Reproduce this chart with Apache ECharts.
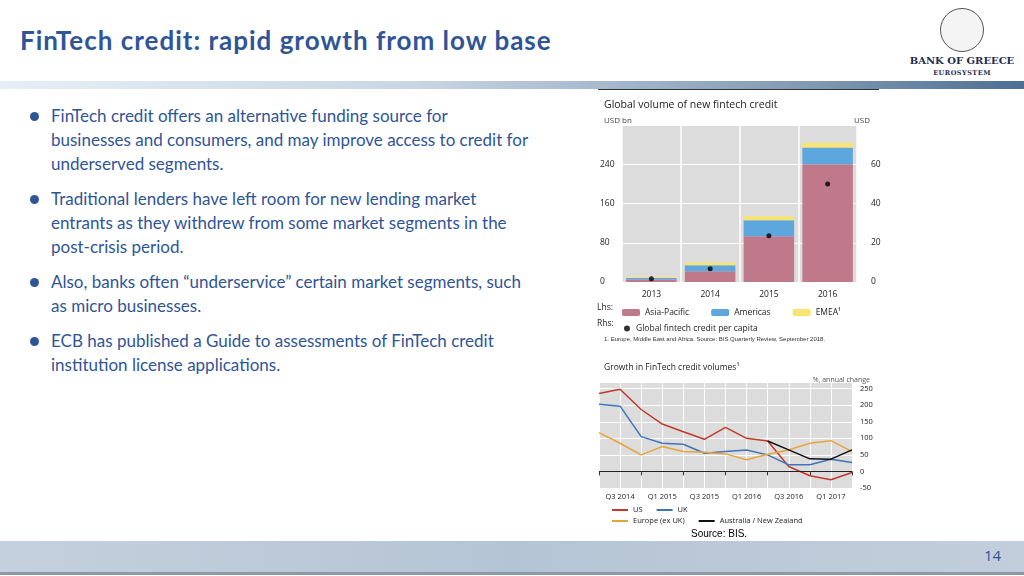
<!DOCTYPE html>
<html><head><meta charset="utf-8">
<script src="https://cdn.jsdelivr.net/npm/echarts@6/dist/echarts.min.js"></script>
<style>
body{margin:0;width:1024px;height:576px;position:relative;background:#fff;font-family:"Open Sans",sans-serif;overflow:hidden}
#title{position:absolute;left:20px;top:24px;font-family:Lato,"Open Sans",sans-serif;font-weight:bold;font-size:26px;color:#2f5597;letter-spacing:1px}
#rule{position:absolute;left:0;top:81px;width:1024px;height:8px;background:linear-gradient(90deg,#e8eef5,#c9d6e4 40%,#7f98b3 80%,#4d6f94)}
#logo{position:absolute;left:900px;top:8px;width:124px;text-align:center;font-family:"DejaVu Serif",serif;color:#1f2a4d}
#seal{width:42px;height:42px;border:1px solid #555;border-radius:50%;margin:0 auto;background:#f4f4f4}
ul{position:absolute;left:28px;top:104px;width:500px;margin:0;padding:0;list-style:none;font-size:17px;line-height:24px;color:#2f5597;font-family:Lato,sans-serif}
li{position:relative;padding-left:23px;margin-bottom:11px}
li:before{content:"";position:absolute;left:2px;top:8px;width:9px;height:9px;border-radius:50%;background:#2f5597}
#c1{position:absolute;left:585px;top:88px;width:300px;height:250px}
#c2{position:absolute;left:585px;top:355px;width:300px;height:170px}
.sm{position:absolute;font-family:Roboto,sans-serif;color:#333}
#footer{position:absolute;left:0;top:541px;width:1024px;height:31px;background:linear-gradient(90deg,#c4d0dd,#b5c4d4 50%,#c2cedb);border-bottom:3px solid #8c9aa8}
</style></head><body>
<div id="title">FinTech credit: rapid growth from low base</div>
<div id="logo"><div id="seal"></div><div style="font-size:10px;font-weight:bold;margin-top:3px">BANK OF GREECE</div><div style="font-size:6.5px;font-weight:bold;margin-top:3px;letter-spacing:0.5px">EUROSYSTEM</div></div>
<div id="rule"></div>
<ul>
<li>FinTech credit offers an alternative funding source for businesses and consumers, and may improve access to credit for underserved segments.</li>
<li>Traditional lenders have left room for new lending market entrants as they withdrew from some market segments in the post-crisis period.</li>
<li>Also, banks often “underservice” certain market segments, such as micro businesses.</li>
<li>ECB has published a Guide to assessments of FinTech credit institution license applications.</li>
</ul>
<div style="position:absolute;left:598px;top:89px;width:281px;border-top:1px solid #333"></div>
<div id="c1"></div>
<div class="sm" style="left:604px;top:336px;font-size:6px;font-family:'Liberation Sans'">1.  Europe, Middle East and Africa. Source: BIS Quarterly Review, September 2018.</div>
<div id="c2"></div>
<div class="sm" style="left:691px;top:528px;font-size:10px;font-family:'Liberation Sans';color:#000">Source: BIS.</div>
<div id="footer"><div style="position:absolute;left:984px;top:4px;font-size:15px;color:#2f5597">14</div></div>
<script>
var years=['2013','2014','2015','2016'];
var asiaPacific=[5,22,93,240];
var americas=[3,12,33,34];
var emea=[2,6,8,10];
var perCapita=[1.7,6.8,23.6,50];

var quarters=['Q2 2014','Q3 2014','Q4 2014','Q1 2015','Q2 2015','Q3 2015','Q4 2015','Q1 2016','Q2 2016','Q3 2016','Q4 2016','Q1 2017','Q2 2017'];
var us=[235,248,187,143,120,97,133,100,92,15,-13,-25,-3];
var uk=[203,197,105,85,82,55,60,65,50,20,20,37,27];
var europe=[117,85,50,75,60,58,53,35,52,65,85,93,60];
var anz=[null,null,null,null,null,null,null,null,92,65,38,37,65];

var f='Open Sans';
var c1=echarts.init(document.getElementById('c1'));
c1.setOption({
 animation:false,
 title:[{text:'Global volume of new fintech credit',left:14,top:7,textStyle:{fontSize:10.5,fontWeight:'normal',color:'#222',fontFamily:f}},
  {text:'USD bn',left:14,top:24,textStyle:{fontSize:8,fontWeight:'normal',color:'#444',fontFamily:f}},
  {text:'USD',right:10,top:24,textStyle:{fontSize:8,fontWeight:'normal',color:'#444',fontFamily:f}}],
 grid:{left:37,right:28,top:37,bottom:56,backgroundColor:'#dcdcdc',show:true,borderWidth:0},
 legend:[{data:['Asia-Pacific','Americas','EMEA¹'],left:32,top:215,itemWidth:18,itemHeight:7,itemGap:22,textStyle:{fontSize:8.5,color:'#222',fontFamily:f}},
   {data:['Global fintech credit per capita'],left:34,top:231,itemWidth:8,itemHeight:6,textStyle:{fontSize:8.5,color:'#222',fontFamily:f}}],
 graphic:[{type:'text',left:12,top:215,style:{text:'Lhs:',fontSize:8.5,fill:'#222',fontFamily:f}},{type:'text',left:12,top:231,style:{text:'Rhs:',fontSize:8.5,fill:'#222',fontFamily:f}}],
 xAxis:{type:'category',data:years,axisTick:{show:false},axisLine:{show:false},axisLabel:{fontSize:8.5,color:'#222',fontFamily:f},
   splitLine:{show:true,lineStyle:{color:'#fff',width:1.5}}},
 yAxis:[{type:'value',min:0,max:320,interval:80,position:'left',axisLabel:{fontSize:8.5,color:'#222',fontFamily:f,margin:-2,align:'left',padding:[0,0,12,-24],formatter:function(v){return v==320?'':v;}},splitLine:{lineStyle:{color:'#fff',width:1}}},
  {type:'value',min:0,max:80,interval:20,position:'right',axisLabel:{fontSize:8.5,color:'#222',fontFamily:f,margin:14,padding:[0,0,12,0],formatter:function(v){return v==80?'':v;}},splitLine:{show:false}}],
 series:[
  {name:'Asia-Pacific',type:'bar',stack:'a',data:asiaPacific,barWidth:'86%',itemStyle:{color:'#c0798a'}},
  {name:'Americas',type:'bar',stack:'a',data:americas,itemStyle:{color:'#5ea6de'}},
  {name:'EMEA¹',type:'bar',stack:'a',data:emea,itemStyle:{color:'#f8e472'}},
  {name:'Global fintech credit per capita',type:'scatter',yAxisIndex:1,data:perCapita,symbolSize:5,itemStyle:{color:'#000'}}
 ]
});

var c2=echarts.init(document.getElementById('c2'));
var lg={itemWidth:16,itemHeight:2,icon:'rect',itemGap:14,textStyle:{fontSize:7.5,color:'#222',fontFamily:f,width:84}};
c2.setOption({
 animation:false,
 title:[{text:'Growth in FinTech credit volumes¹',left:14,top:3,textStyle:{fontSize:8.5,fontWeight:'normal',color:'#222',fontFamily:f}},
  {text:'%, annual change',right:10,top:16,textStyle:{fontSize:7,fontWeight:'normal',color:'#555',fontFamily:f}}],
 grid:{left:14,right:33,top:27,bottom:37,backgroundColor:'#dcdcdc',show:true,borderWidth:0},
 legend:[Object.assign({data:['US','UK'],left:22,top:146},lg),Object.assign({data:['Europe (ex UK)','Australia / New Zealand'],left:22,top:157},lg)],
 xAxis:{type:'category',data:quarters,boundaryGap:false,axisLine:{show:false},axisTick:{show:true,interval:1,length:4,lineStyle:{color:'#333'}},
   axisLabel:{interval:0,fontSize:7.5,color:'#222',fontFamily:f,margin:5,
     formatter:function(v,i){return (i%2==1)?v:'';}},splitLine:{show:true,interval:0,lineStyle:{color:'#fff'}}},
 yAxis:{type:'value',min:-50,max:270,interval:50,position:'right',axisLabel:{fontSize:7.5,color:'#222',fontFamily:f,margin:8},splitLine:{lineStyle:{color:'#fff'}}},
 series:[
  {name:'US',type:'line',data:us,symbol:'none',lineStyle:{color:'#c0392b',width:1.5},itemStyle:{color:'#c0392b'},
   markLine:{silent:true,symbol:'none',label:{show:false},lineStyle:{color:'#222',type:'solid',width:1},data:[{yAxis:0}]}},
  {name:'UK',type:'line',data:uk,symbol:'none',lineStyle:{color:'#3d75b8',width:1.5},itemStyle:{color:'#3d75b8'}},
  {name:'Europe (ex UK)',type:'line',data:europe,symbol:'none',lineStyle:{color:'#e8a33a',width:1.5},itemStyle:{color:'#e8a33a'}},
  {name:'Australia / New Zealand',type:'line',data:anz,symbol:'none',lineStyle:{color:'#111',width:1.5},itemStyle:{color:'#111'}}
 ]
});
</script>
</body></html>
